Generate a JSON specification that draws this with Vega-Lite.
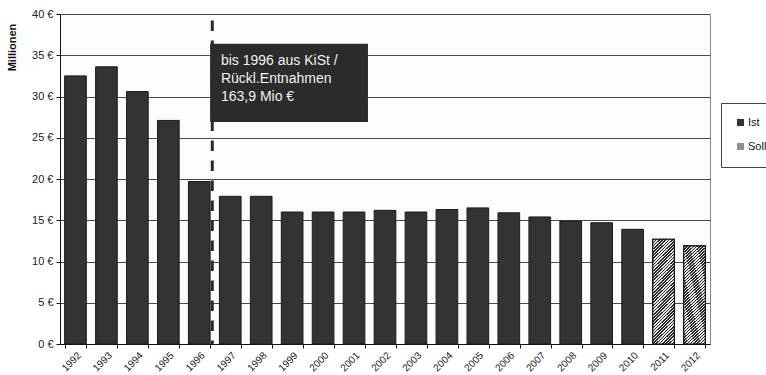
{
  "$schema": "https://vega.github.io/schema/vega-lite/v6.json",
  "width": 650,
  "height": 330,
  "autosize": "none",
  "padding": {"left": 60, "top": 14, "right": 56, "bottom": 31},
  "background": "#ffffff",
  "datasets": {
    "haushalt": [
      {"year": "1992", "value": 32.5, "type": "Ist"},
      {"year": "1993", "value": 33.6, "type": "Ist"},
      {"year": "1994", "value": 30.6, "type": "Ist"},
      {"year": "1995", "value": 27.1, "type": "Ist"},
      {"year": "1996", "value": 19.7, "type": "Ist"},
      {"year": "1997", "value": 17.9, "type": "Ist"},
      {"year": "1998", "value": 17.9, "type": "Ist"},
      {"year": "1999", "value": 16.0, "type": "Ist"},
      {"year": "2000", "value": 16.0, "type": "Ist"},
      {"year": "2001", "value": 16.0, "type": "Ist"},
      {"year": "2002", "value": 16.2, "type": "Ist"},
      {"year": "2003", "value": 16.0, "type": "Ist"},
      {"year": "2004", "value": 16.3, "type": "Ist"},
      {"year": "2005", "value": 16.5, "type": "Ist"},
      {"year": "2006", "value": 15.9, "type": "Ist"},
      {"year": "2007", "value": 15.4, "type": "Ist"},
      {"year": "2008", "value": 14.9, "type": "Ist"},
      {"year": "2009", "value": 14.7, "type": "Ist"},
      {"year": "2010", "value": 13.9, "type": "Ist"},
      {"year": "2011", "value": 12.7, "type": "Soll"},
      {"year": "2012", "value": 11.9, "type": "Soll"}
    ],
    "hinweis": [
      {"lx": 4.92, "ly": 39.2, "x0": 4.85, "x1": 9.95, "y0": 26.9, "y1": 36.4, "tx": 5.2, "ty": 33.8,
       "label": "bis 1996 aus KiSt /\nRückl.Entnahmen\n163,9 Mio €"}
    ]
  },
  "layer": [
    {
      "data": {"name": "haushalt"},
      "layer": [
        {
          "mark": {"type": "bar", "stroke": "#1c1c1c", "strokeWidth": 1},
          "encoding": {
            "x": {
              "field": "year", "type": "ordinal", "title": null,
              "scale": {"paddingInner": 0.3, "paddingOuter": 0.15}
            },
            "y": {
              "field": "value", "type": "quantitative", "title": "Millionen",
              "scale": {"domain": [0, 40], "nice": false, "zero": true},
              "axis": {
                "values": [0, 5, 10, 15, 20, 25, 30, 35, 40],
                "labelExpr": "datum.value + ' €'"
              }
            },
            "fill": {
              "field": "type", "type": "nominal",
              "scale": {"domain": ["Ist", "Soll"], "range": ["#333333", "#8f8f8f"]},
              "legend": {
                "orient": "none", "legendX": 661, "legendY": 89,
                "title": null, "symbolType": "square", "symbolSize": 50,
                "symbolStrokeColor": "#111111", "symbolStrokeWidth": 1,
                "labelFont": "Liberation Sans", "labelFontSize": 11,
                "labelColor": "#111111", "labelOffset": 2,
                "rowPadding": 11, "padding": 14,
                "strokeColor": "#444444", "fillColor": "#ffffff",
                "encode": {
                  "symbols": {
                    "update": {
                      "fill": {"signal": "datum.value === 'Soll' ? {gradient: 'linear', x1: 0, y1: 0, x2: 1, y2: 1, stops: [{offset: 0, color: '#2b2b2b'}, {offset: 0.42, color: '#2b2b2b'}, {offset: 0.42, color: '#f0f0f0'}, {offset: 0.58, color: '#f0f0f0'}, {offset: 0.58, color: '#2b2b2b'}, {offset: 1, color: '#2b2b2b'}]} : '#333333'"}
                    }
                  }
                }
              }
            }
          }
        },
        {
          "transform": [{"filter": "datum.type == 'Soll'"}],
          "mark": {
            "type": "bar", "stroke": "#111111", "strokeWidth": 1.2,
            "fill": {
              "gradient": "linear", "x1": 0, "y1": 0, "x2": 0.2308, "y2": 1.1538,
              "stops": [
                {"offset": 0, "color": "#2b2b2b"}, {"offset": 0.0125, "color": "#2b2b2b"}, {"offset": 0.0125, "color": "#e8e8e8"}, {"offset": 0.025, "color": "#e8e8e8"},
                {"offset": 0.025, "color": "#2b2b2b"}, {"offset": 0.0375, "color": "#2b2b2b"}, {"offset": 0.0375, "color": "#e8e8e8"}, {"offset": 0.05, "color": "#e8e8e8"},
                {"offset": 0.05, "color": "#2b2b2b"}, {"offset": 0.0625, "color": "#2b2b2b"}, {"offset": 0.0625, "color": "#e8e8e8"}, {"offset": 0.075, "color": "#e8e8e8"},
                {"offset": 0.075, "color": "#2b2b2b"}, {"offset": 0.0875, "color": "#2b2b2b"}, {"offset": 0.0875, "color": "#e8e8e8"}, {"offset": 0.1, "color": "#e8e8e8"},
                {"offset": 0.1, "color": "#2b2b2b"}, {"offset": 0.1125, "color": "#2b2b2b"}, {"offset": 0.1125, "color": "#e8e8e8"}, {"offset": 0.125, "color": "#e8e8e8"},
                {"offset": 0.125, "color": "#2b2b2b"}, {"offset": 0.1375, "color": "#2b2b2b"}, {"offset": 0.1375, "color": "#e8e8e8"}, {"offset": 0.15, "color": "#e8e8e8"},
                {"offset": 0.15, "color": "#2b2b2b"}, {"offset": 0.1625, "color": "#2b2b2b"}, {"offset": 0.1625, "color": "#e8e8e8"}, {"offset": 0.175, "color": "#e8e8e8"},
                {"offset": 0.175, "color": "#2b2b2b"}, {"offset": 0.1875, "color": "#2b2b2b"}, {"offset": 0.1875, "color": "#e8e8e8"}, {"offset": 0.2, "color": "#e8e8e8"},
                {"offset": 0.2, "color": "#2b2b2b"}, {"offset": 0.2125, "color": "#2b2b2b"}, {"offset": 0.2125, "color": "#e8e8e8"}, {"offset": 0.225, "color": "#e8e8e8"},
                {"offset": 0.225, "color": "#2b2b2b"}, {"offset": 0.2375, "color": "#2b2b2b"}, {"offset": 0.2375, "color": "#e8e8e8"}, {"offset": 0.25, "color": "#e8e8e8"},
                {"offset": 0.25, "color": "#2b2b2b"}, {"offset": 0.2625, "color": "#2b2b2b"}, {"offset": 0.2625, "color": "#e8e8e8"}, {"offset": 0.275, "color": "#e8e8e8"},
                {"offset": 0.275, "color": "#2b2b2b"}, {"offset": 0.2875, "color": "#2b2b2b"}, {"offset": 0.2875, "color": "#e8e8e8"}, {"offset": 0.3, "color": "#e8e8e8"},
                {"offset": 0.3, "color": "#2b2b2b"}, {"offset": 0.3125, "color": "#2b2b2b"}, {"offset": 0.3125, "color": "#e8e8e8"}, {"offset": 0.325, "color": "#e8e8e8"},
                {"offset": 0.325, "color": "#2b2b2b"}, {"offset": 0.3375, "color": "#2b2b2b"}, {"offset": 0.3375, "color": "#e8e8e8"}, {"offset": 0.35, "color": "#e8e8e8"},
                {"offset": 0.35, "color": "#2b2b2b"}, {"offset": 0.3625, "color": "#2b2b2b"}, {"offset": 0.3625, "color": "#e8e8e8"}, {"offset": 0.375, "color": "#e8e8e8"},
                {"offset": 0.375, "color": "#2b2b2b"}, {"offset": 0.3875, "color": "#2b2b2b"}, {"offset": 0.3875, "color": "#e8e8e8"}, {"offset": 0.4, "color": "#e8e8e8"},
                {"offset": 0.4, "color": "#2b2b2b"}, {"offset": 0.4125, "color": "#2b2b2b"}, {"offset": 0.4125, "color": "#e8e8e8"}, {"offset": 0.425, "color": "#e8e8e8"},
                {"offset": 0.425, "color": "#2b2b2b"}, {"offset": 0.4375, "color": "#2b2b2b"}, {"offset": 0.4375, "color": "#e8e8e8"}, {"offset": 0.45, "color": "#e8e8e8"},
                {"offset": 0.45, "color": "#2b2b2b"}, {"offset": 0.4625, "color": "#2b2b2b"}, {"offset": 0.4625, "color": "#e8e8e8"}, {"offset": 0.475, "color": "#e8e8e8"},
                {"offset": 0.475, "color": "#2b2b2b"}, {"offset": 0.4875, "color": "#2b2b2b"}, {"offset": 0.4875, "color": "#e8e8e8"}, {"offset": 0.5, "color": "#e8e8e8"},
                {"offset": 0.5, "color": "#2b2b2b"}, {"offset": 0.5125, "color": "#2b2b2b"}, {"offset": 0.5125, "color": "#e8e8e8"}, {"offset": 0.525, "color": "#e8e8e8"},
                {"offset": 0.525, "color": "#2b2b2b"}, {"offset": 0.5375, "color": "#2b2b2b"}, {"offset": 0.5375, "color": "#e8e8e8"}, {"offset": 0.55, "color": "#e8e8e8"},
                {"offset": 0.55, "color": "#2b2b2b"}, {"offset": 0.5625, "color": "#2b2b2b"}, {"offset": 0.5625, "color": "#e8e8e8"}, {"offset": 0.575, "color": "#e8e8e8"},
                {"offset": 0.575, "color": "#2b2b2b"}, {"offset": 0.5875, "color": "#2b2b2b"}, {"offset": 0.5875, "color": "#e8e8e8"}, {"offset": 0.6, "color": "#e8e8e8"},
                {"offset": 0.6, "color": "#2b2b2b"}, {"offset": 0.6125, "color": "#2b2b2b"}, {"offset": 0.6125, "color": "#e8e8e8"}, {"offset": 0.625, "color": "#e8e8e8"},
                {"offset": 0.625, "color": "#2b2b2b"}, {"offset": 0.6375, "color": "#2b2b2b"}, {"offset": 0.6375, "color": "#e8e8e8"}, {"offset": 0.65, "color": "#e8e8e8"},
                {"offset": 0.65, "color": "#2b2b2b"}, {"offset": 0.6625, "color": "#2b2b2b"}, {"offset": 0.6625, "color": "#e8e8e8"}, {"offset": 0.675, "color": "#e8e8e8"},
                {"offset": 0.675, "color": "#2b2b2b"}, {"offset": 0.6875, "color": "#2b2b2b"}, {"offset": 0.6875, "color": "#e8e8e8"}, {"offset": 0.7, "color": "#e8e8e8"},
                {"offset": 0.7, "color": "#2b2b2b"}, {"offset": 0.7125, "color": "#2b2b2b"}, {"offset": 0.7125, "color": "#e8e8e8"}, {"offset": 0.725, "color": "#e8e8e8"},
                {"offset": 0.725, "color": "#2b2b2b"}, {"offset": 0.7375, "color": "#2b2b2b"}, {"offset": 0.7375, "color": "#e8e8e8"}, {"offset": 0.75, "color": "#e8e8e8"},
                {"offset": 0.75, "color": "#2b2b2b"}, {"offset": 0.7625, "color": "#2b2b2b"}, {"offset": 0.7625, "color": "#e8e8e8"}, {"offset": 0.775, "color": "#e8e8e8"},
                {"offset": 0.775, "color": "#2b2b2b"}, {"offset": 0.7875, "color": "#2b2b2b"}, {"offset": 0.7875, "color": "#e8e8e8"}, {"offset": 0.8, "color": "#e8e8e8"},
                {"offset": 0.8, "color": "#2b2b2b"}, {"offset": 0.8125, "color": "#2b2b2b"}, {"offset": 0.8125, "color": "#e8e8e8"}, {"offset": 0.825, "color": "#e8e8e8"},
                {"offset": 0.825, "color": "#2b2b2b"}, {"offset": 0.8375, "color": "#2b2b2b"}, {"offset": 0.8375, "color": "#e8e8e8"}, {"offset": 0.85, "color": "#e8e8e8"},
                {"offset": 0.85, "color": "#2b2b2b"}, {"offset": 0.8625, "color": "#2b2b2b"}, {"offset": 0.8625, "color": "#e8e8e8"}, {"offset": 0.875, "color": "#e8e8e8"},
                {"offset": 0.875, "color": "#2b2b2b"}, {"offset": 0.8875, "color": "#2b2b2b"}, {"offset": 0.8875, "color": "#e8e8e8"}, {"offset": 0.9, "color": "#e8e8e8"},
                {"offset": 0.9, "color": "#2b2b2b"}, {"offset": 0.9125, "color": "#2b2b2b"}, {"offset": 0.9125, "color": "#e8e8e8"}, {"offset": 0.925, "color": "#e8e8e8"},
                {"offset": 0.925, "color": "#2b2b2b"}, {"offset": 0.9375, "color": "#2b2b2b"}, {"offset": 0.9375, "color": "#e8e8e8"}, {"offset": 0.95, "color": "#e8e8e8"},
                {"offset": 0.95, "color": "#2b2b2b"}, {"offset": 0.9625, "color": "#2b2b2b"}, {"offset": 0.9625, "color": "#e8e8e8"}, {"offset": 0.975, "color": "#e8e8e8"},
                {"offset": 0.975, "color": "#2b2b2b"}, {"offset": 0.9875, "color": "#2b2b2b"}, {"offset": 0.9875, "color": "#e8e8e8"}, {"offset": 1, "color": "#e8e8e8"}
              ]
            }
          },
          "encoding": {
            "x": {"field": "year", "type": "ordinal", "title": null},
            "y": {"field": "value", "type": "quantitative", "title": "Millionen"}
          }
        }
      ]
    },
    {
      "data": {"name": "hinweis"},
      "layer": [
        {
          "mark": {"type": "rule", "stroke": "#2a2a2a", "strokeWidth": 3, "strokeDash": [10.5, 9.5]},
          "encoding": {
            "x": {"field": "lx", "type": "quantitative", "axis": null,
                  "scale": {"domain": [0, 21], "nice": false, "zero": false}},
            "y": {"field": "ly", "type": "quantitative", "title": "Millionen"},
            "y2": {"datum": 0}
          }
        },
        {
          "mark": {"type": "rect", "fill": "#2b2b2b"},
          "encoding": {
            "x": {"field": "x0", "type": "quantitative", "axis": null},
            "x2": {"field": "x1"},
            "y": {"field": "y1", "type": "quantitative", "title": "Millionen"},
            "y2": {"field": "y0"}
          }
        },
        {
          "mark": {
            "type": "text", "align": "left", "baseline": "alphabetic",
            "font": "Liberation Sans", "fontSize": 14, "color": "#f2f2f2",
            "lineBreak": "\n", "lineHeight": 18
          },
          "encoding": {
            "x": {"field": "tx", "type": "quantitative", "axis": null},
            "y": {"field": "ty", "type": "quantitative", "title": "Millionen"},
            "text": {"field": "label"}
          }
        }
      ]
    }
  ],
  "resolve": {"scale": {"x": "independent"}},
  "config": {
    "view": {"stroke": "#8a8a8a", "fill": "#fcfcfc"},
    "axis": {
      "labelFont": "Liberation Sans", "labelColor": "#222222",
      "domainColor": "#111111", "tickColor": "#111111", "tickSize": 4
    },
    "axisY": {
      "grid": true, "gridColor": "#4a4a4a", "gridWidth": 1,
      "labelFontSize": 11, "labelPadding": 3,
      "titleFont": "Liberation Sans", "titleFontSize": 11, "titleFontWeight": "bold",
      "titleColor": "#111111", "titleAngle": -90, "titleAlign": "center",
      "titleBaseline": "middle", "titleX": -48, "titleY": 33
    },
    "axisX": {
      "grid": false, "labelAngle": -45, "labelFontSize": 10,
      "labelPadding": 2, "tickBand": "extent"
    }
  }
}
